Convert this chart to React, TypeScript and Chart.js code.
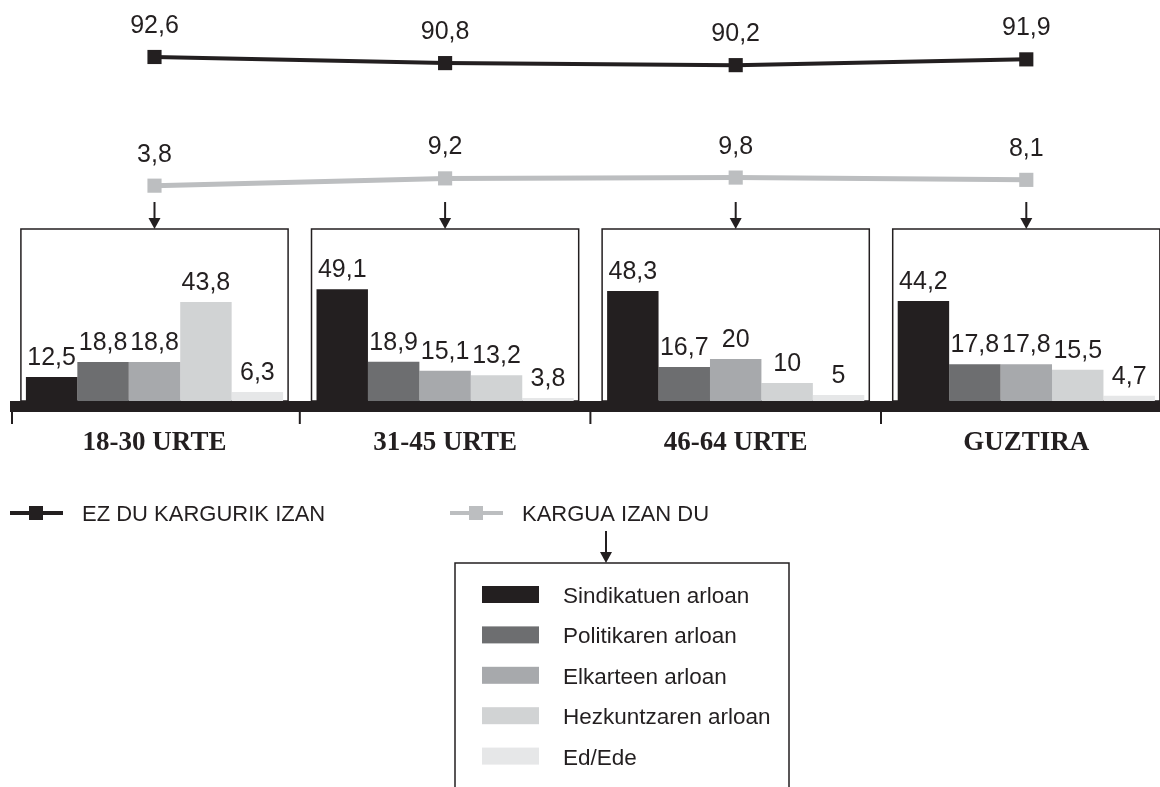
import React, { useEffect, useRef } from 'react';
import { Chart, registerables } from 'chart.js';

Chart.register(...registerables);

// ---- data ----
const categories = ['18-30 URTE', '31-45 URTE', '46-64 URTE', 'GUZTIRA'];
const lineLabels = ['EZ DU KARGURIK IZAN', 'KARGUA IZAN DU'];
const noPosition = [92.6, 90.8, 90.2, 91.9];
const hadPosition = [3.8, 9.2, 9.8, 8.1];
const barLabels = ['Sindikatuen arloan', 'Politikaren arloan', 'Elkarteen arloan', 'Hezkuntzaren arloan', 'Ed/Ede'];
const sindikatuen = [12.5, 49.1, 48.3, 44.2];
const politikaren = [18.8, 18.9, 16.7, 17.8];
const elkarteen = [18.8, 15.1, 20, 17.8];
const hezkuntzaren = [43.8, 13.2, 10, 15.5];
const edEde = [6.3, 3.8, 5, 4.7];

const barSeries = [sindikatuen, politikaren, elkarteen, hezkuntzaren, edEde];
const barColors = ['#231f20', '#6d6e70', '#a7a9ac', '#d1d3d4', '#e6e7e8'];
const INK = '#231f20';
const GRAY_LINE = '#bcbec0';
const SANS = "'Liberation Sans', Arial, Helvetica, sans-serif";
const SERIF = "'Liberation Serif', 'Times New Roman', serif";

const fmt = (v: number) => String(v).replace('.', ',');

export default function App() {
  const ref = useRef<HTMLCanvasElement>(null);

  useEffect(() => {
    const canvas = ref.current;
    if (!canvas) return;

    const BOX_TOP = 229;
    const BAND_TOP = 401;
    const BAND_BOT = 412;

    const arrow = (ctx: CanvasRenderingContext2D, x: number, y0: number, y1: number) => {
      ctx.strokeStyle = INK;
      ctx.fillStyle = INK;
      ctx.lineWidth = 2;
      ctx.beginPath();
      ctx.moveTo(x, y0);
      ctx.lineTo(x, y1 - 9);
      ctx.stroke();
      ctx.beginPath();
      ctx.moveTo(x - 6, y1 - 11);
      ctx.lineTo(x + 6, y1 - 11);
      ctx.lineTo(x, y1);
      ctx.closePath();
      ctx.fill();
    };

    const decor = {
      id: 'decor',
      beforeDatasetsDraw(chart: any) {
        const ctx = chart.ctx as CanvasRenderingContext2D;
        ctx.save();
        const first = chart.getDatasetMeta(0);
        const last = chart.getDatasetMeta(barSeries.length - 1);
        categories.forEach((_, j) => {
          const b0 = first.data[j] as any;
          const b1 = last.data[j] as any;
          const l = b0.x - b0.width / 2 - 5;
          const r = b1.x + b1.width / 2 + 5;
          ctx.strokeStyle = INK;
          ctx.lineWidth = 1.5;
          ctx.strokeRect(l, BOX_TOP, r - l, BAND_TOP - BOX_TOP);
        });
        ctx.restore();
      },
      afterDatasetsDraw(chart: any) {
        const ctx = chart.ctx as CanvasRenderingContext2D;
        const area = chart.chartArea;
        const xs = chart.scales.x;
        ctx.save();

        // thick base band
        ctx.fillStyle = INK;
        ctx.fillRect(10, BAND_TOP, 1160, BAND_BOT - BAND_TOP);

        // ticks at category boundaries
        const catW = (area.right - area.left) / categories.length;
        ctx.strokeStyle = INK;
        ctx.lineWidth = 2;
        categories.forEach((_, j) => {
          const bx = Math.max(12, xs.getPixelForValue(j) - catW / 2);
          ctx.beginPath();
          ctx.moveTo(bx, BAND_BOT);
          ctx.lineTo(bx, 424);
          ctx.stroke();
        });

        // category labels
        ctx.fillStyle = INK;
        ctx.font = `bold 27px ${SERIF}`;
        ctx.textAlign = 'center';
        ctx.textBaseline = 'alphabetic';
        categories.forEach((c, j) => {
          ctx.fillText(c, xs.getPixelForValue(j), 450);
        });

        // bar value labels
        ctx.font = `25px ${SANS}`;
        barSeries.forEach((series, i) => {
          const meta = chart.getDatasetMeta(i);
          series.forEach((v, j) => {
            const el = meta.data[j] as any;
            ctx.fillText(fmt(v), el.x, el.y - 12);
          });
        });

        // line value labels
        [noPosition, hadPosition].forEach((series, k) => {
          const meta = chart.getDatasetMeta(barSeries.length + k);
          series.forEach((v, j) => {
            const el = meta.data[j] as any;
            ctx.fillText(fmt(v), el.x, el.y - 24);
          });
        });

        // arrows from grey line points to boxes
        const gMeta = chart.getDatasetMeta(barSeries.length + 1);
        gMeta.data.forEach((el: any) => arrow(ctx, el.x, 202, BOX_TOP));

        // line legend
        const lineLegend = [
          { color: INK, x: 10, text: lineLabels[0], tx: 82 },
          { color: GRAY_LINE, x: 450, text: lineLabels[1], tx: 522 },
        ];
        lineLegend.forEach((it) => {
          ctx.fillStyle = it.color;
          ctx.fillRect(it.x, 511, 53, 4);
          ctx.fillRect(it.x + 19, 506, 14, 14);
          ctx.fillStyle = INK;
          ctx.textAlign = 'left';
          ctx.font = `22px ${SANS}`;
          ctx.fillText(it.text, it.tx, 521);
        });

        // arrow to bar legend box
        arrow(ctx, 606, 531, 563);

        // bar legend box (open at the bottom)
        ctx.strokeStyle = INK;
        ctx.lineWidth = 1.5;
        ctx.beginPath();
        ctx.moveTo(455, 800);
        ctx.lineTo(455, 563);
        ctx.lineTo(789, 563);
        ctx.lineTo(789, 800);
        ctx.stroke();

        barLabels.forEach((lab, i) => {
          const top = 586 + i * 40.4;
          ctx.fillStyle = barColors[i];
          ctx.fillRect(482, top, 57, 17);
          ctx.fillStyle = INK;
          ctx.font = `22.5px ${SANS}`;
          ctx.textAlign = 'left';
          ctx.fillText(lab, 563, top + 17);
        });

        ctx.restore();
      },
    };

    const datasets: any[] = barSeries.map((s, i) => ({
      type: 'bar',
      label: barLabels[i],
      data: s,
      backgroundColor: barColors[i],
      borderWidth: 0,
      yAxisID: 'yBar',
      categoryPercentage: 0.885,
      barPercentage: 1,
      order: 2,
    }));
    datasets.push({
      type: 'line',
      label: lineLabels[0],
      data: noPosition,
      borderColor: INK,
      backgroundColor: INK,
      borderWidth: 4,
      pointStyle: 'rect',
      pointRadius: 10,
      pointBorderWidth: 0,
      pointBackgroundColor: INK,
      yAxisID: 'yTop',
      order: 1,
    });
    datasets.push({
      type: 'line',
      label: lineLabels[1],
      data: hadPosition,
      borderColor: GRAY_LINE,
      backgroundColor: GRAY_LINE,
      borderWidth: 5,
      pointStyle: 'rect',
      pointRadius: 10,
      pointBorderWidth: 0,
      pointBackgroundColor: GRAY_LINE,
      yAxisID: 'yMid',
      order: 1,
    });

    const chart = new Chart(canvas, {
      type: 'bar',
      data: { labels: categories, datasets },
      options: {
        responsive: false,
        animation: false,
        devicePixelRatio: 1,
        layout: { autoPadding: false, padding: { left: 9.2, right: 3.4, top: 0, bottom: 380 } },
        plugins: { legend: { display: false }, tooltip: { enabled: false } },
        scales: {
          x: { type: 'category', display: false, offset: true },
          yBar: { type: 'linear', display: false, min: 0, max: 407 / 2.4 },
          yTop: { type: 'linear', display: false, min: 109.36 - 407 / 3.4, max: 109.36 },
          yMid: { type: 'linear', display: false, min: -(407 - 190.8) / 1.35, max: 190.8 / 1.35 },
        },
      } as any,
      plugins: [decor],
    });

    return () => chart.destroy();
  }, []);

  return (
    <div
      style={{
        position: 'absolute',
        left: 0,
        top: 0,
        width: 1160,
        height: 787,
        overflow: 'hidden',
        background: '#ffffff',
      }}
    >
      <canvas ref={ref} width={1175} height={787} style={{ display: 'block', width: 1175, height: 787 }} />
    </div>
  );
}
